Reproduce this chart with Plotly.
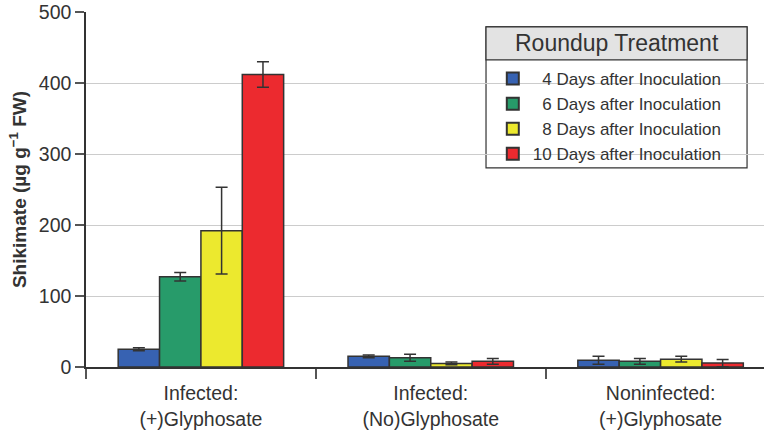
import plotly.graph_objects as go

categories = ["Infected:<br>(+)Glyphosate", "Infected:<br>(No)Glyphosate", "Noninfected:<br>(+)Glyphosate"]
series_names = ["\u20074 Days after Inoculation", "\u20076 Days after Inoculation",
                "\u20078 Days after Inoculation", "10 Days after Inoculation"]
day4 = [25, 15, 9.5]
day6 = [127, 13, 8]
day8 = [192, 5, 11]
day10 = [412, 8, 5.5]
err4 = [2, 2, 5.5]
err6 = [6, 5, 4]
err8 = [61, 2, 4]
err10 = [18, 4, 5]
colors = ["#3762b2", "#279b6a", "#ece92e", "#ec2a2f"]

values = [day4, day6, day8, day10]
errors = [err4, err6, err8, err10]

fig = go.Figure()
for name, v, e, c in zip(series_names, values, errors, colors):
    fig.add_trace(go.Bar(
        x=categories, y=v, name=name,
        marker=dict(color=c, line=dict(color="#333333", width=1.5)),
        error_y=dict(type="data", array=e, visible=True, color="#333333", thickness=1.5, width=6),
    ))

txt = "#333333"
fig.update_layout(
    width=764, height=432,
    margin=dict(l=86, r=0, t=12, b=65, autoexpand=False),
    paper_bgcolor="white", plot_bgcolor="white",
    font=dict(family="Liberation Sans, Arial, sans-serif", color=txt, size=16),
    barmode="group", bargap=0.28, bargroupgap=0,
    showlegend=True,
    legend=dict(x=0.6, y=0.862, xanchor="left", yanchor="top", bgcolor="rgba(0,0,0,0)",
                font=dict(size=17, color=txt), tracegroupgap=0, itemsizing="constant"),
    xaxis=dict(type="category", range=[-0.5, 2.45], tickson="boundaries", ticks="outside",
               ticklen=10, tickcolor="#555555", tickwidth=1.5, showline=True, linecolor="#333333",
               linewidth=1.5, tickfont=dict(size=19.5, color=txt), showgrid=False, automargin=False,
               ticklabelstandoff=8),
    yaxis=dict(range=[0, 500], tickvals=[0, 100, 200, 300, 400, 500], ticks="outside", ticklen=9,
               tickcolor="#555555", tickwidth=1.5, showline=True, linecolor="#333333", linewidth=1.5,
               gridcolor="#cccccc", gridwidth=1, tickfont=dict(size=19.5, color=txt), zeroline=False,
               automargin=False,
               title=dict(text="<b>Shikimate (\u00b5g g<sup>\u22121</sup> FW)</b>", font=dict(size=19, color=txt),
                          standoff=7)),
    shapes=[
        dict(type="rect", xref="paper", yref="paper", x0=0.590, x1=0.975, y0=0.561, y1=0.958,
             line=dict(color="#333333", width=1.2), fillcolor="white", layer="below"),
        dict(type="rect", xref="paper", yref="paper", x0=0.590, x1=0.975, y0=0.865, y1=0.958,
             line=dict(color="#333333", width=1.2), fillcolor="#e3e3e3", layer="below"),
    ],
    annotations=[
        dict(text="Roundup Treatment", xref="paper", yref="paper", x=0.7825, y=0.912,
             showarrow=False, font=dict(size=23, color=txt), xanchor="center", yanchor="middle"),
    ],
)

fig.write_html("out.html", config={"displayModeBar": False},
               post_script="document.body.style.margin='0px';")
